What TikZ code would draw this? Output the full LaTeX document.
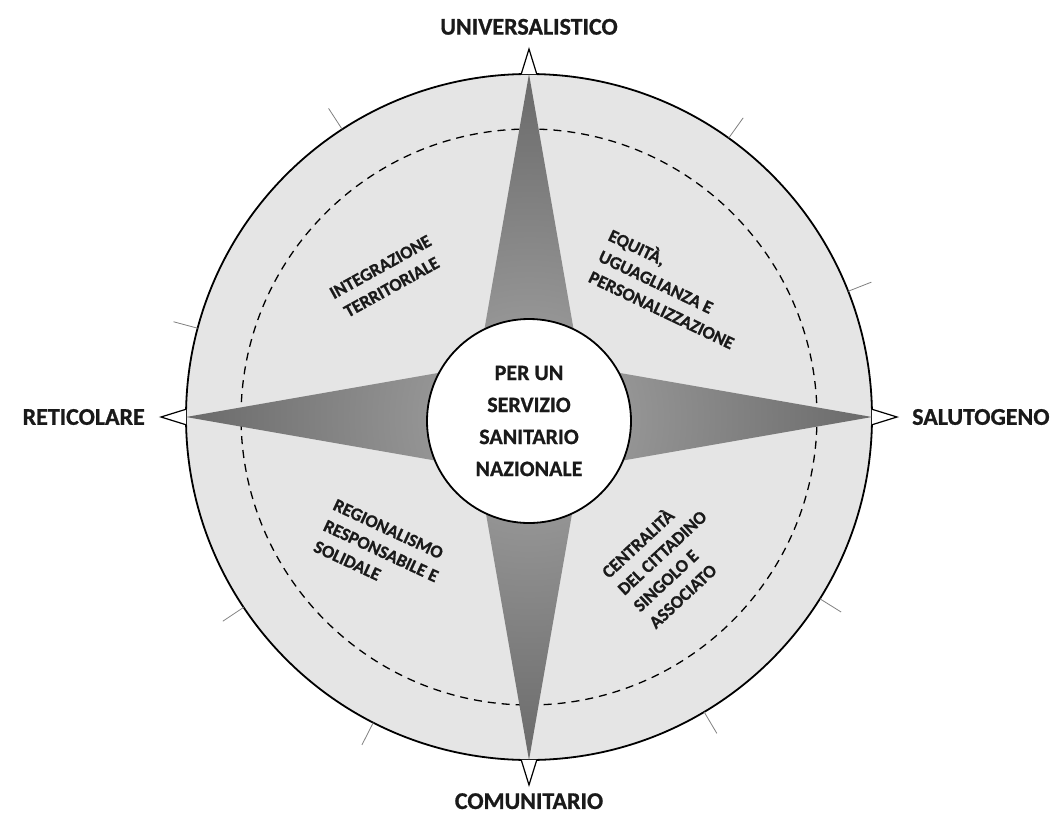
\documentclass[tikz,border=0pt]{standalone}
\usepackage{fontspec}
\setmainfont{Carlito}[BoldFeatures={FakeBold=0.8}]
\usetikzlibrary{positioning}
\definecolor{discgray}{HTML}{E5E5E5}
\definecolor{armlight}{HTML}{A6A6A6}
\definecolor{armdark}{HTML}{6A6A6A}
\definecolor{inkblack}{HTML}{1A1A1A}
\tikzset{
  pole/.style={font=\fontsize{24}{28}\selectfont\bfseries,text=inkblack,inner sep=0pt},
  sector/.style={font=\fontsize{18}{23}\selectfont\bfseries,text=inkblack,inner sep=0pt,align=left},
  hub/.style={circle,draw,line width=1.8pt,fill=white,minimum size=204pt,inner sep=0pt,
    align=center,text=inkblack,font=\fontsize{22}{32}\selectfont\bfseries},
}
\begin{document}
\begin{tikzpicture}[x=1pt,y=1pt]
  \useasboundingbox (-529,-398) rectangle (535,417);
  % disc and dashed ring
  \draw[line width=1.8pt,fill=discgray] (0,0) circle (343);
  \draw[line width=1.3pt,dash pattern=on 8pt off 6pt] (0,0) circle (288);
  % star
  \shade[inner color=armlight,outer color=armdark] (0,343)--(51,51)--(343,0)--(51,-51)
    --(0,-343)--(-51,-51)--(-343,0)--(-51,51)--cycle;
  % ticks
  \foreach \a in {21.5,54.4,123,165,213.7,243,300.7,328}
    \draw[gray,line width=0.8pt] (\a:343)--(\a:368);
  % pointers
  \foreach \a/\n in {90/t,0/r,270/b,180/l}{
    \coordinate (tip\n) at (\a:368);
    \draw[line width=1.2pt,fill=white] (\a+1.3:343)--(tip\n)--(\a-1.3:343);
  }
  \node[pole,above=14pt of tipt] (univ) {UNIVERSALISTICO};
  \node[pole,below=8pt of tipb] (comun) {COMUNITARIO};
  \node[pole,left=16pt of tipl] (retic) {RETICOLARE};
  \node[pole,right=15pt of tipr] (saluto) {SALUTOGENO};
  % centre
  \node[hub] (hub) at (0,-4) {PER UN\\SERVIZIO\\SANITARIO\\NAZIONALE};
  % sectors
  \node[sector,align=center,rotate=29] (integ) at (-143,140) {INTEGRAZIONE\\TERRITORIALE};
  \node[sector,rotate=-25.5] (equita) at (143,129) {EQUITÀ,\\UGUAGLIANZA E\\PERSONALIZZAZIONE};
  \node[sector,rotate=-25] (region) at (-148,-134) {REGIONALISMO\\RESPONSABILE E\\SOLIDALE};
  \node[sector,rotate=43] (centr) at (140,-143) {CENTRALITÀ\\DEL CITTADINO\\SINGOLO E\\ASSOCIATO};
\end{tikzpicture}
\end{document}
